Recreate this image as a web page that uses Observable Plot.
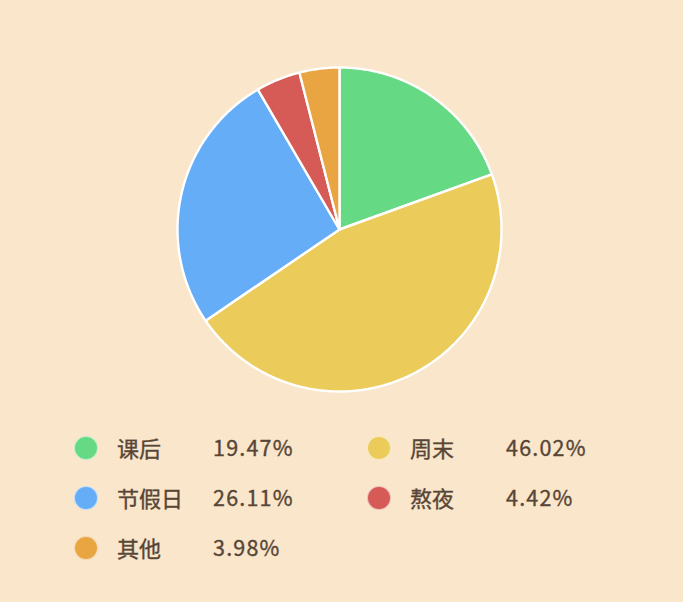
<!DOCTYPE html>
<html>
<head>
<meta charset="utf-8">
<script src="https://cdn.jsdelivr.net/npm/d3@7"></script>
<script src="https://cdn.jsdelivr.net/npm/@observablehq/plot@0.6"></script>
<style>
  html, body { margin: 0; padding: 0; background: #f9e6cb; }
  #wrap { position: relative; width: 683px; height: 602px; background: #f9e6cb; overflow: hidden;
          font-family: "Noto Sans CJK SC", "Noto Sans", sans-serif; color: #574536; }
  #pie { position: absolute; left: 0; top: 0; }
  .item { position: absolute; height: 30px; }
  .dot { position: absolute; width: 24px; height: 24px; border-radius: 50%; box-sizing: border-box;
         border: 1.5px solid rgba(255,255,255,0.6); left: -12px; top: -12px; }
  .lab { position: absolute; left: 31px; top: -17px; font-size: 22px; line-height: 32px; white-space: nowrap;
         -webkit-text-stroke: 0.35px #574536; }
  .pct { position: absolute; left: 127px; top: -17px; font-size: 21.5px; line-height: 32px; letter-spacing: 1.2px; white-space: nowrap;
         -webkit-text-stroke: 0.35px #574536; }
</style>
</head>
<body>
<div id="wrap"><div id="pie"></div><div id="legend"></div></div>
<script>
const categories = ["课后", "周末", "节假日", "熬夜", "其他"];
const percents = [19.47, 46.02, 26.11, 4.42, 3.98];
const colors = ["#66d985", "#ebcb5a", "#66adf8", "#d65b56", "#e9a542"];

// slice geometry from the data via d3.pie (start at 12 o'clock, clockwise)
const pieGen = d3.pie().sort(null).value(d => d.value);
const arcs = pieGen(categories.map((name, i) => ({name, value: percents[i]})));
const pts = [];
for (const a of arcs) {
  const name = a.data.name;
  pts.push({name, x: 0, y: 0});
  const n = Math.max(2, Math.ceil((a.endAngle - a.startAngle) / (Math.PI / 360)));
  for (let k = 0; k <= n; k++) {
    const t = a.startAngle + (a.endAngle - a.startAngle) * k / n;
    pts.push({name, x: Math.sin(t), y: Math.cos(t)});
  }
  pts.push({name, x: 0, y: 0});
}

const cx = 339, cy = 229, r = 162;
const chart = Plot.plot({
  width: 683,
  height: 420,
  margin: 0,
  style: {background: "transparent"},
  x: {domain: [-1, 1], range: [cx - r, cx + r], axis: null},
  y: {domain: [-1, 1], range: [cy + r, cy - r], axis: null},
  color: {domain: categories, range: colors},
  marks: [
    Plot.line(pts, {x: "x", y: "y", z: "name", fill: "name", stroke: "white", strokeWidth: 2.4, strokeLinejoin: "round"})
  ]
});
document.getElementById("pie").appendChild(chart);

// legend (two columns)
const legend = document.getElementById("legend");
categories.forEach((name, i) => {
  const col = i % 2, row = Math.floor(i / 2);
  const item = document.createElement("div");
  item.className = "item";
  item.style.left = (86 + col * 293) + "px";
  item.style.top = (448 + row * 50) + "px";
  item.innerHTML = `<div class="dot" style="background:${colors[i]}"></div>` +
    `<div class="lab">${name}</div><div class="pct">${percents[i].toFixed(2)}%</div>`;
  legend.appendChild(item);
});
</script>
</body>
</html>
